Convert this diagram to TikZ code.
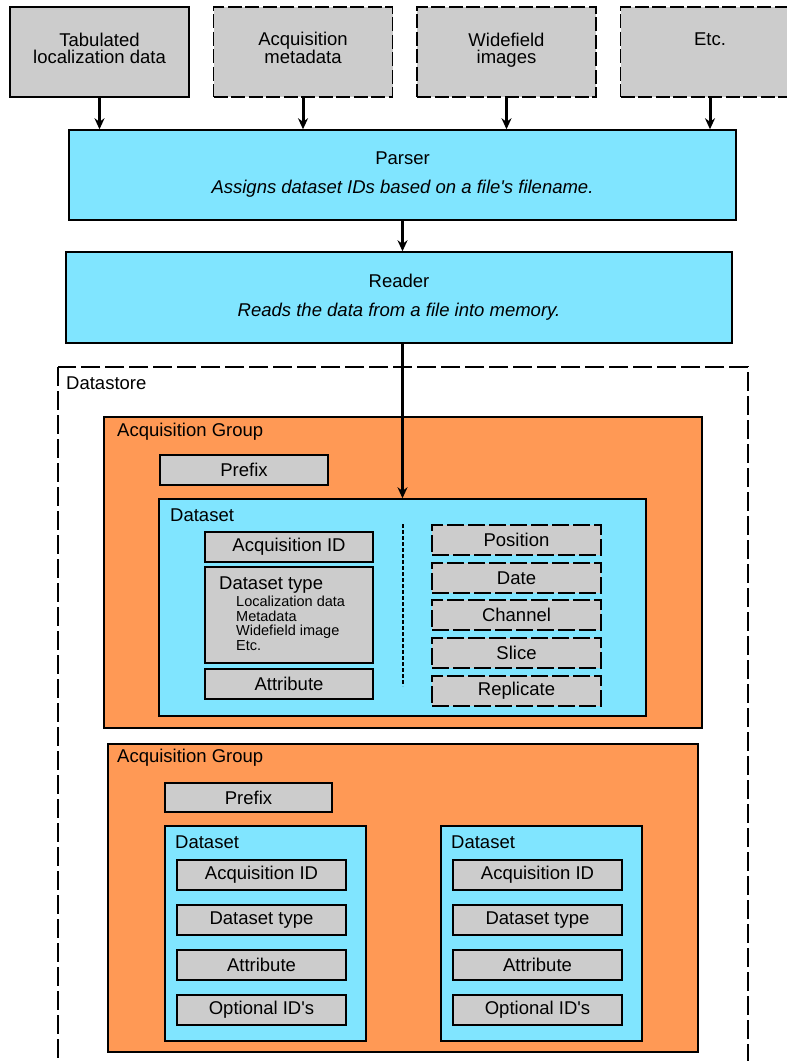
\documentclass[tikz,border=0pt]{standalone}
\usepackage{fontspec}
\setmainfont{Liberation Sans}
\usetikzlibrary{arrows.meta}
\definecolor{boxgray}{HTML}{CCCCCC}
\definecolor{setcyan}{HTML}{80E5FF}
\definecolor{grouporange}{HTML}{FF9955}
\tikzset{
  every node/.style={font=\fontsize{18.5}{17}\selectfont},
  field/.style={draw, line width=1.5pt, fill=boxgray, inner sep=0pt, minimum width=168pt, minimum height=30pt},
  optfield/.style={field, dash pattern=on 17pt off 4pt},
  source/.style={field, minimum width=179pt, minimum height=90pt, align=center, text depth=8pt},
  optsource/.style={source, dash pattern=on 14pt off 3.5pt},
  stage/.style={draw, line width=1.5pt, fill=setcyan, inner sep=0pt, minimum height=90pt, align=center},
  group/.style={draw, line width=1.5pt, fill=grouporange, inner sep=0pt},
  dataset/.style={draw, line width=1.5pt, fill=setcyan, inner sep=0pt},
  title/.style={anchor=west, inner sep=0pt},
  feed/.style={line width=3pt, -{Stealth[length=11pt,width=10pt]}},
}
\begin{document}
\begin{tikzpicture}[x=1pt,y=-1pt]
\useasboundingbox (0,0) rectangle (787,1061);

% input files
\foreach \x/\name/\txt/\sty in {99.5/tab/{Tabulated\\localization data}/source,
    303/meta/{Acquisition\\metadata}/optsource,
    506.5/wide/{Widefield\\images}/optsource,
    710/etc/{Etc.\\\mbox{}}/optsource}
{
    \node[\sty] (\name) at (\x,52) {\txt};
}

\node[stage, minimum width=667pt] (parser) at (402.5,175)
    {Parser\\[12pt]\textit{Assigns dataset IDs based on a file\textquotesingle s filename.}};
\node[stage, minimum width=666pt, minimum height=91pt] (reader) at (399,297.5)
    {Reader\\[12pt]\textit{Reads the data from a file into memory.}};

\foreach \name in {tab,meta,wide,etc}
{
    \draw[feed] (\name.south) -- (\name.south |- parser.north);
}
\draw[feed] (parser.south) -- (parser.south |- reader.north);

% datastore
\draw[line width=1.5pt, dash pattern=on 19pt off 5pt] (58,367) rectangle (748,1090);
\node[title] (storelbl) at (66,383) {Datastore};

% first acquisition group
\node[group, minimum width=598pt, minimum height=311pt] (grp1) at (403,572.5) {};
\node[title] (grp1lbl) at (117,432) {Acquisition Group};
\node[field] (prefix1) at (244,470) {Prefix};
\node[dataset, minimum width=487pt, minimum height=217pt] (set1) at (402.5,607.5) {};
\node[title] (set1lbl) at (170,515) {Dataset};
\node[field] (acq1) at (289,547) {Acquisition ID};
\node[field, minimum height=96pt] (type1) at (289,615) {};
\node[title] (type1lbl) at (219,585) {Dataset type};
\node[anchor=north west, inner sep=0pt, align=left, font=\fontsize{14.5}{14.6}\selectfont]
    (type1list) at (236,596) {Localization data\\Metadata\\Widefield image\\Etc.};
\node[field] (attr1) at (289,684) {Attribute};
\draw[line width=1.5pt, dash pattern=on 4pt off 2pt] (403,524) -- (403,686);
\foreach \y/\t in {540/Position, 578/Date, 615/Channel, 653/Slice, 691/Replicate}
{
    \node[optfield, minimum width=169pt] (\t) at (516.5,\y) {\t};
}
\draw[feed] (parser.south |- reader.south) -- (parser.south |- set1.north);

% second acquisition group
\node[group, minimum width=590pt, minimum height=308pt] (grp2) at (403,898) {};
\node[title] (grp2lbl) at (117,758) {Acquisition Group};
\node[field, minimum width=167pt, minimum height=29pt] (prefix2) at (248.5,797.5) {Prefix};
\foreach \s/\x in {a/265.5, b/541.5}
{
    \node[dataset, minimum width=201pt, minimum height=215pt] (set\s) at (\x,933.5) {};
    \node[title] (set\s lbl) at (\x-90.5,842) {Dataset};
    \foreach \y/\n/\t in {875/acq/Acquisition ID, 920/type/Dataset type, 965/attr/Attribute,
        1010/opt/Optional ID\textquotesingle s}
    {
        \node[field, minimum width=169pt] (\n\s) at (\x-4,\y) {\t};
    }
}
\end{tikzpicture}
\end{document}
